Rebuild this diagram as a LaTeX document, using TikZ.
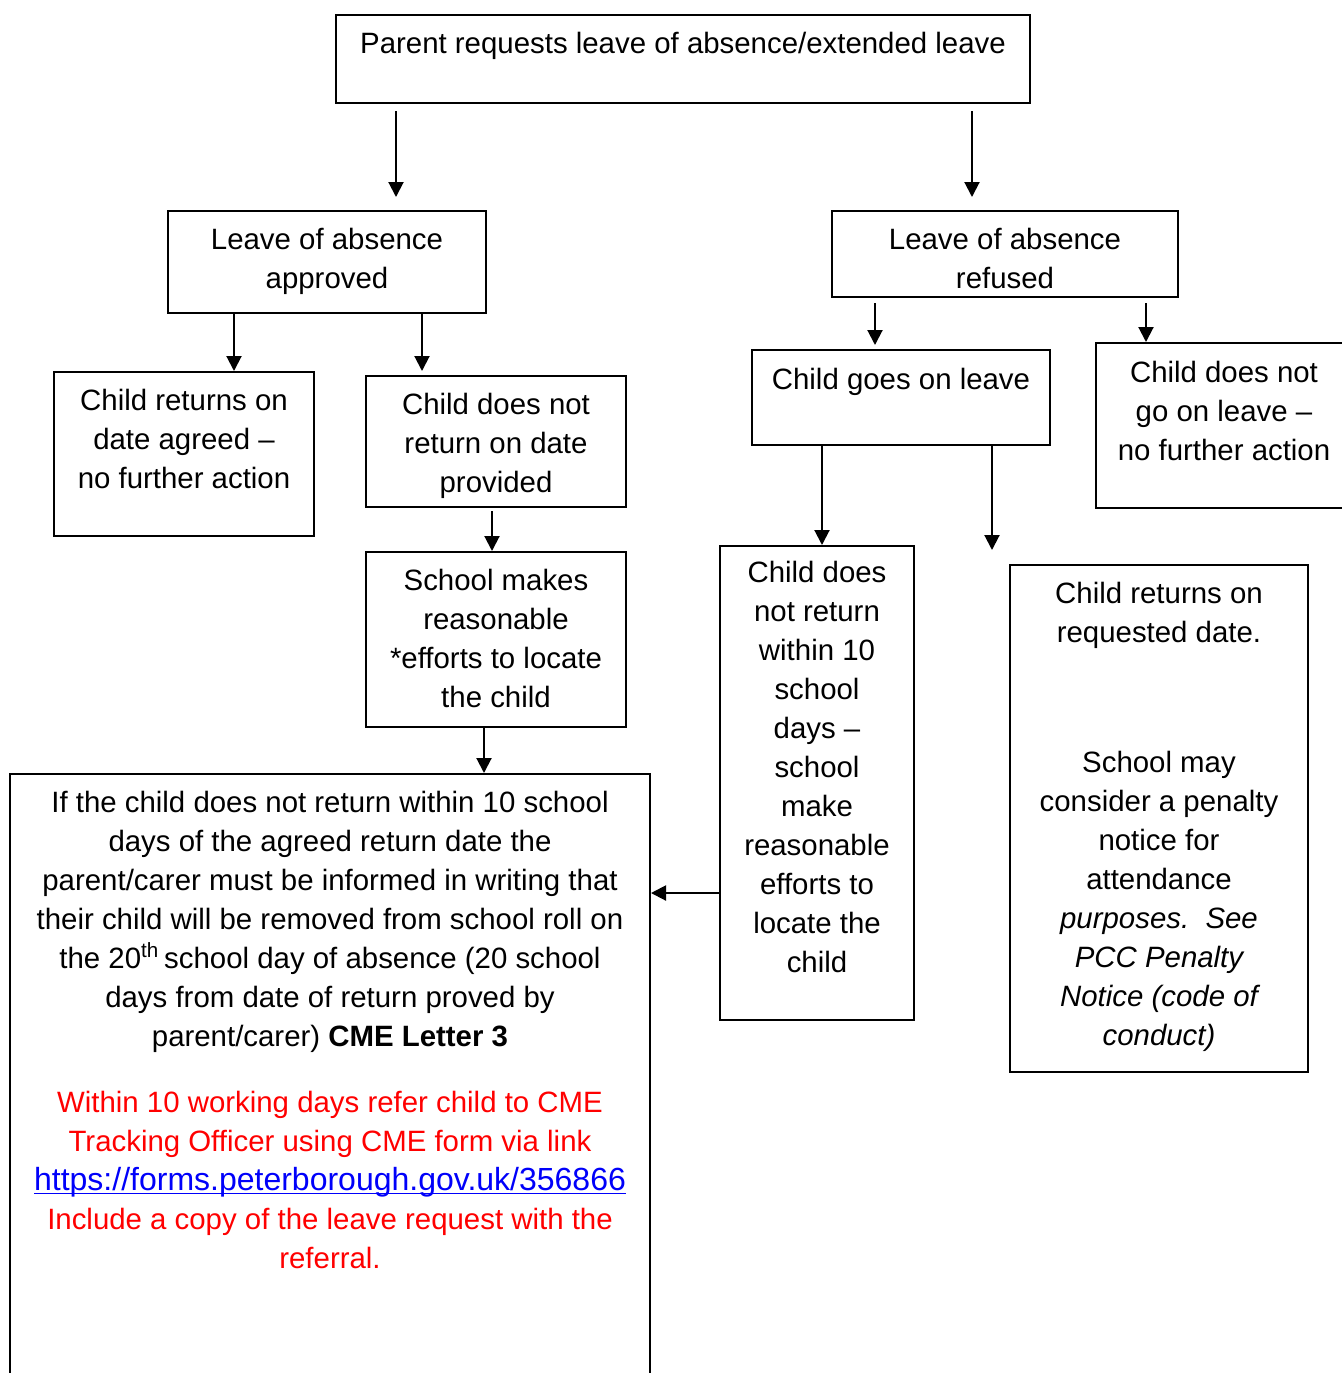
\documentclass[tikz,border=0pt]{standalone}
\usepackage{fontspec}
\setmainfont{Liberation Sans}
\usetikzlibrary{arrows.meta,fit}
\definecolor{linkblue}{RGB}{0,0,250}
\definecolor{alertred}{RGB}{255,0,0}
% hyperlink look: underline sitting just below the baseline
\newcommand\weblink[1]{{\fontsize{16}{19.5}\selectfont\color{linkblue}%
  \setbox0\hbox{#1}\rlap{\rule[-2.2pt]{\wd0}{0.9pt}}\box0}}
\tikzset{
  box/.style={draw, line width=1pt, inner sep=0pt},
  % anchor=base sits on the last line of a multi-line text
  txt/.style={align=center, inner sep=0pt, anchor=base,
              font=\fontsize{14.7}{19.5}\selectfont},
  arr/.style={-{Triangle[length=7.5pt,width=7.5pt]}, line width=1pt},
}
\begin{document}
\begin{tikzpicture}[x=0.5pt, y=-0.5pt]
\useasboundingbox (0,0) rectangle (1342,1373);

% boxes
\node[box, fit={(336,15) (1030,103)}]   (top) {};
\node[box, fit={(168,211) (486,313)}]   (appr) {};
\node[box, fit={(832,211) (1178,297)}]  (refu) {};
\node[box, fit={(54,372) (314,536)}]    (back) {};
\node[box, fit={(366,376) (626,507)}]   (noret) {};
\node[box, fit={(752,350) (1050,445)}]  (goes) {};
\node[box, fit={(1096,343) (1362,508)}] (stays) {};
\node[box, fit={(366,552) (626,727)}]   (locate) {};
\node[box, fit={(10,774) (650,1400)}]   (roll) {};
\node[box, fit={(720,546) (914,1020)}]  (tenday) {};
\node[box, fit={(1010,565) (1308,1072)}] (onday) {};

% texts (positions give the baseline of each text's last line)
\node[txt] (top-t) at (683,53) {Parent requests leave of absence/extended leave};
\node[txt] (appr-t) at (327,288) {Leave of absence\\approved};
\node[txt] (refu-t) at (1005,288) {Leave of absence\\refused};
\node[txt] (back-t) at (184,488) {Child returns on\\date agreed --\\no further action};
\node[txt] (noret-t) at (496,492) {Child does not\\return on date\\provided};
\node[txt] (goes-t) at (901,389) {Child goes on leave};
\node[txt] (stays-t) at (1224,460) {Child does not\\go on leave --\\no further action};
\node[txt] (locate-t) at (496,707) {School makes\\reasonable\\*efforts to locate\\the child};
\node[txt] (roll-t) at (330,1046) {If the child does not return within 10 school\\
  days of the agreed return date the\\
  parent/carer must be informed in writing that\\
  their child will be removed from school roll on\\
  the 20\textsuperscript{th}\,school day of absence (20 school\\
  days from date of return proved by\\
  parent/carer) \textbf{CME Letter 3}};
\node[txt, text=alertred] (refer-t) at (330,1268) {Within 10 working days refer child to CME\\
  Tracking Officer using CME form via link\\
  \weblink{https://forms.peterborough.gov.uk/356866}\\
  Include a copy of the leave request with the\\
  referral.};
\node[txt] (tenday-t) at (817,972) {Child does\\not return\\within 10\\school\\days --\\school\\make\\reasonable\\efforts to\\locate the\\child};
\node[txt] (onday-t) at (1159,642) {Child returns on\\requested date.};
\node[txt] (penalty-t) at (1159,1045) {School may\\consider a penalty\\notice for\\attendance\\
  \itshape purposes.\ \ See\\\itshape PCC Penalty\\\itshape Notice (code of\\\itshape conduct)};

% connectors
\coordinate (lost) at (992,550);
\draw[arr, shorten <=3.5pt, shorten >=6.5pt] (top.south -| 396,0) -- (appr.north -| 396,0);
\draw[arr, shorten <=3.5pt, shorten >=6.5pt] (top.south -| 972,0) -- (refu.north -| 972,0);
\draw[arr] (appr.south -| 234,0) -- (back.north -| 234,0);
\draw[arr, shorten >=2pt] (appr.south -| 422,0) -- (noret.north -| 422,0);
\draw[arr, shorten <=2.5pt, shorten >=2pt] (refu.south -| 875,0) -- (goes.north -| 875,0);
\draw[arr, shorten <=2.5pt] (refu.south -| 1146,0) -- (stays.north -| 1146,0);
\draw[arr, shorten <=1.5pt] (noret.south -| 492,0) -- (locate.north -| 492,0);
\draw[arr] (locate.south -| 484,0) -- (roll.north -| 484,0);
\draw[arr] (goes.south -| 822,0) -- (tenday.north -| 822,0);
\draw[arr] (goes.south -| lost) -- (lost);
\draw[arr] (tenday.west |- 0,893) -- (roll.east |- 0,893);
\end{tikzpicture}
\end{document}
